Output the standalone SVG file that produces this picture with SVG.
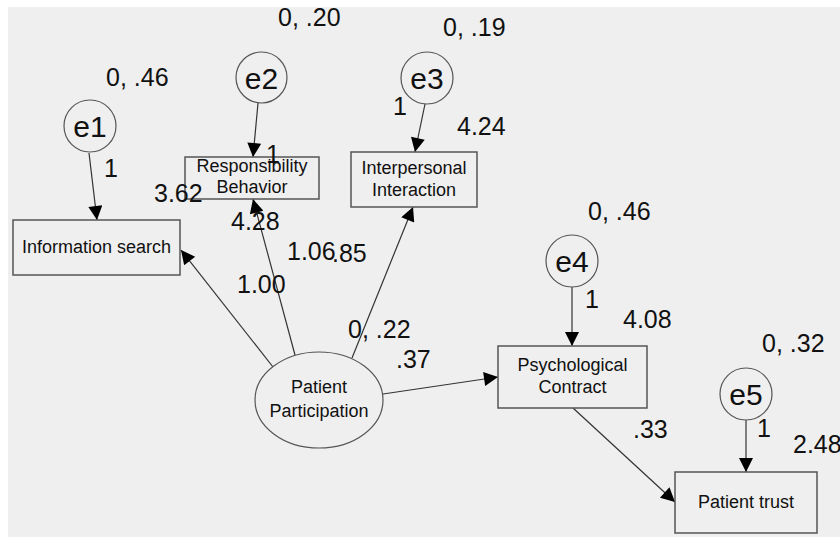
<svg xmlns="http://www.w3.org/2000/svg" width="840" height="537" viewBox="0 0 840 537">
<defs>
<marker id="ahb" viewBox="0 0 10 10" refX="10" refY="5" markerWidth="18" markerHeight="14" markerUnits="userSpaceOnUse" orient="auto">
<path d="M0,0 L10,5 L0,10 z" fill="#000"/>
</marker>
</defs>
<style>
.bx{fill:#efefef;stroke:#555;stroke-width:1.5}
.ci{fill:#efefef;stroke:#555;stroke-width:1.2}
.nt{font-family:"Liberation Sans",Arial,sans-serif;font-size:18px;fill:#111;text-anchor:middle}
.et{font-family:"Liberation Sans",Arial,sans-serif;font-size:30px;fill:#111;text-anchor:middle}
.num{font-family:"Liberation Sans",Arial,sans-serif;font-size:25px;fill:#111}
.cn{stroke:#333;stroke-width:1.2;fill:none;marker-end:url(#ahb)}
</style>
<rect x="0" y="0" width="840" height="537" fill="#fff"/>
<rect x="8" y="7" width="832" height="530" fill="#efefef"/>

<g id="connectors">
<line class="cn" x1="89" y1="153" x2="97" y2="220"/>
<line class="cn" x1="258" y1="103" x2="253" y2="157"/>
<line class="cn" x1="425" y1="104" x2="415" y2="152"/>
<line class="cn" x1="273" y1="367" x2="181" y2="250"/>
<line class="cn" x1="295" y1="355" x2="253" y2="199"/>
<line class="cn" x1="352" y1="358" x2="413" y2="207"/>
<line class="cn" x1="383" y1="394" x2="498" y2="377"/>
<line class="cn" x1="573" y1="408" x2="675" y2="502"/>
<line class="cn" x1="572" y1="287" x2="572" y2="346"/>
<line class="cn" x1="746" y1="420" x2="746" y2="472"/>
</g>

<g id="info">
<rect class="bx" x="13" y="220" width="167" height="55"/>
<text class="nt" x="96.5" y="253">Information search</text>
</g>
<g id="resp">
<rect class="bx" x="185" y="157" width="134" height="42"/>
<text class="nt" x="252" y="172">Responsibility</text>
<text class="nt" x="252" y="193">Behavior</text>
</g>
<g id="inter">
<rect class="bx" x="351" y="152" width="126" height="55"/>
<text class="nt" x="414" y="174">Interpersonal</text>
<text class="nt" x="414" y="196">Interaction</text>
</g>
<g id="psych">
<rect class="bx" x="498" y="346" width="149" height="62"/>
<text class="nt" x="572.5" y="371">Psychological</text>
<text class="nt" x="572.5" y="393">Contract</text>
</g>
<g id="trust">
<rect class="bx" x="675" y="472" width="142" height="61"/>
<text class="nt" x="746" y="508">Patient trust</text>
</g>
<g id="pp">
<ellipse class="ci" cx="319" cy="400" rx="64" ry="48"/>
<text class="nt" x="319" y="393">Patient</text>
<text class="nt" x="319" y="417">Participation</text>
</g>
<g id="e1">
<circle class="ci" cx="90" cy="126" r="26"/>
<text class="et" x="90" y="137">e1</text>
</g>
<g id="e2">
<circle class="ci" cx="261.5" cy="77.5" r="25.5"/>
<text class="et" x="261.5" y="88.5">e2</text>
</g>
<g id="e3">
<circle class="ci" cx="427" cy="78" r="26"/>
<text class="et" x="427" y="89">e3</text>
</g>
<g id="e4">
<circle class="ci" cx="572" cy="261" r="26"/>
<text class="et" x="572" y="272">e4</text>
</g>
<g id="e5">
<circle class="ci" cx="746" cy="394" r="26"/>
<text class="et" x="746" y="405">e5</text>
</g>

<g id="labels">
<text class="num" x="278" y="26">0, .20</text>
<text class="num" x="106" y="86">0, .46</text>
<text class="num" x="104" y="177">1</text>
<text class="num" x="266" y="163">1</text>
<text class="num" x="154" y="202">3.62</text>
<text class="num" x="231" y="230">4.28</text>
<text class="num" x="287" y="260">1.06</text>
<text class="num" x="332" y="262">.85</text>
<text class="num" x="237" y="293">1.00</text>
<text class="num" x="348" y="338">0, .22</text>
<text class="num" x="396" y="368">.37</text>
<text class="num" x="443" y="36">0, .19</text>
<text class="num" x="393" y="115">1</text>
<text class="num" x="457" y="135">4.24</text>
<text class="num" x="588" y="220">0, .46</text>
<text class="num" x="585" y="308">1</text>
<text class="num" x="623" y="328">4.08</text>
<text class="num" x="762" y="352">0, .32</text>
<text class="num" x="757" y="437">1</text>
<text class="num" x="793" y="453">2.48</text>
<text class="num" x="633" y="438">.33</text>
</g>
</svg>
